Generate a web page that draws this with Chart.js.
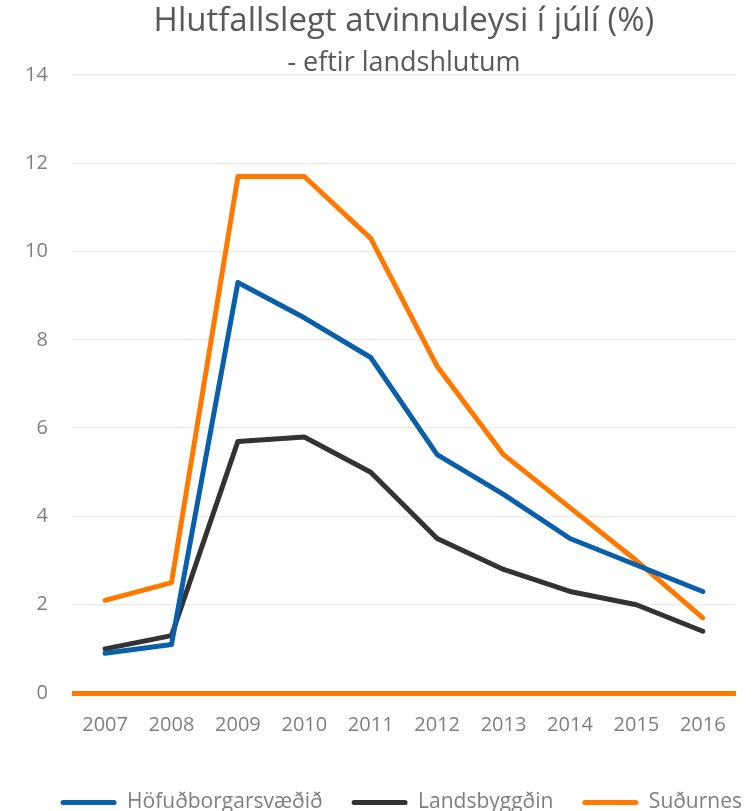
<!DOCTYPE html>
<html lang="is">
<head>
<meta charset="utf-8">
<title>Hlutfallslegt atvinnuleysi í júlí (%)</title>
<script src="https://cdn.jsdelivr.net/npm/chart.js@4"></script>
<style>
  html, body { margin: 0; padding: 0; background: #fff; overflow: hidden; }
  /* a little taller than the window so the legend sits on the bottom edge */
  #wrap { width: 756px; height: 823px; position: relative; }
</style>
</head>
<body>
<div id="wrap"><canvas id="atvinnuleysi"></canvas></div>
<script>
const years = ['2007', '2008', '2009', '2010', '2011', '2012', '2013', '2014', '2015', '2016'];
const hofudborgarsvaedid = [0.9, 1.1, 9.3, 8.5, 7.6, 5.4, 4.5, 3.5, 2.9, 2.3];
const landsbyggdin = [1.0, 1.3, 5.7, 5.8, 5.0, 3.5, 2.8, 2.3, 2.0, 1.4];
const sudurnes = [2.1, 2.5, 11.7, 11.7, 10.3, 7.4, 5.4, 4.2, 3.0, 1.7];
const yTicks = [0, 2, 4, 6, 8, 10, 12, 14];

const BLUE = '#0a5fab';
const DARK = '#333333';
const ORANGE = '#ff7800';
const FONT = "'Open Sans', sans-serif";

function series(label, data, color) {
  return {
    label: label,
    data: data,
    borderColor: color,
    backgroundColor: color,
    borderWidth: 5,
    borderCapStyle: 'round',
    borderJoinStyle: 'round',
    pointRadius: 0,
    pointHoverRadius: 0,
    tension: 0
  };
}

try {
  new Chart(document.getElementById('atvinnuleysi'), {
    type: 'line',
    data: {
      labels: years,
      datasets: [
        series('Höfuðborgarsvæðið', hofudborgarsvaedid, BLUE),
        series('Landsbyggðin', landsbyggdin, DARK),
        series('Suðurnes', sudurnes, ORANGE)
      ]
    },
    options: {
      responsive: true,
      maintainAspectRatio: false,
      animation: false,
      // legend row runs slightly past the right edge of the plot
      layout: { padding: { left: 1, right: -15, top: 0, bottom: 0 } },
      scales: {
        x: {
          offset: true,
          grid: { display: false, drawTicks: false },
          border: { display: false },
          ticks: { color: '#7f7f7f', font: { family: FONT, size: 20 }, padding: 20 },
          afterFit: scale => { scale.height += 6; }
        },
        y: {
          min: yTicks[0],
          max: yTicks[yTicks.length - 1],
          afterBuildTicks: scale => { scale.ticks = yTicks.map(v => ({ value: v })); },
          grid: {
            drawTicks: false,
            color: c => (c.tick && c.tick.value === 0 ? ORANGE : '#ededed'),
            lineWidth: c => (c.tick && c.tick.value === 0 ? 5 : 1.5)
          },
          border: { display: false },
          ticks: { color: '#7f7f7f', font: { family: FONT, size: 20 }, padding: 24 }
        },
        // empty strip to the right of the plot
        yRight: {
          position: 'right',
          grid: { display: false, drawTicks: false },
          border: { display: false },
          ticks: { display: false },
          afterFit: scale => { scale.width = 35; }
        }
      },
      plugins: {
        title: {
          display: true,
          fullSize: false,
          text: 'Hlutfallslegt atvinnuleysi í júlí (%)',
          color: '#595959',
          font: { family: FONT, size: 33, weight: 'normal', lineHeight: 1 },
          padding: { top: 5.5, bottom: 0 }
        },
        subtitle: {
          display: true,
          fullSize: false,
          text: '- eftir landshlutum',
          color: '#595959',
          font: { family: FONT, size: 27, weight: 'normal', lineHeight: 1 },
          padding: { top: 11, bottom: -1.5 }
        },
        legend: {
          position: 'bottom',
          align: 'end',
          labels: {
            color: '#7f7f7f',
            font: { family: FONT, size: 21 },
            boxWidth: 56,
            boxHeight: 5,
            useBorderRadius: true,
            borderRadius: 2.5,
            padding: 29,
            generateLabels: chart =>
              Chart.defaults.plugins.legend.labels.generateLabels(chart)
                .map(item => Object.assign(item, { lineWidth: 0 }))
          }
        },
        tooltip: { enabled: false }
      }
    }
  });
} catch (error) {
  console.log(error);
}
</script>
</body>
</html>
